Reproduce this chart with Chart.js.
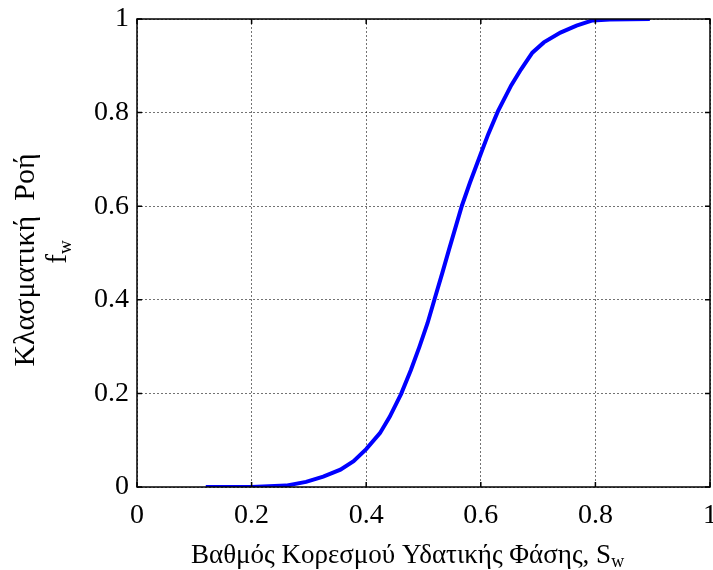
<!DOCTYPE html>
<html>
<head>
<meta charset="utf-8">
<script src="https://cdn.jsdelivr.net/npm/chart.js@4.4.1/dist/chart.umd.min.js"></script>
<style>
  html, body { margin:0; padding:0; background:#fff; }
  #wrap { width:713px; height:570px; position:relative; }
</style>
</head>
<body>
<div id="wrap"><canvas id="fwChart"></canvas></div>
<script>
/* ---- data ---- */
const swValues = [0.12, 0.20, 0.26, 0.295, 0.325, 0.355, 0.378, 0.40, 0.424, 0.441,
                  0.461, 0.478, 0.493, 0.507, 0.519, 0.533, 0.544, 0.567, 0.581, 0.60,
                  0.613, 0.63, 0.653, 0.67, 0.69, 0.71, 0.739, 0.767, 0.795, 0.825, 0.895];
const fwValues = [0, 0, 0.003, 0.011, 0.022, 0.037, 0.055, 0.081, 0.115, 0.15,
                  0.199, 0.25, 0.30, 0.35, 0.40, 0.458, 0.505, 0.601, 0.65, 0.712,
                  0.754, 0.803, 0.858, 0.892, 0.928, 0.95, 0.971, 0.986, 0.997, 0.999, 1.0];
const xTickValues = [0, 0.2, 0.4, 0.6, 0.8, 1];
const yTickValues = [0, 0.2, 0.4, 0.6, 0.8, 1];
const xTitle = 'Βαθμός Κορεσμού Υδατικής Φάσης, S';
const xTitleSub = 'w';
const yTitle = 'Κλασματική  Ροή';
const yTitle2 = 'f';
const yTitle2Sub = 'w';

const SERIF = '"Liberation Serif", "Times New Roman", serif';

/* matlab-like box, inward ticks and titles with subscripts */
const matlabFrame = {
  id: 'matlabFrame',
  afterDraw(chart) {
    const ctx = chart.ctx, a = chart.chartArea;
    const xs = chart.scales.x, ys = chart.scales.y;
    ctx.save();
    ctx.strokeStyle = '#000';
    ctx.lineWidth = 1.5;
    ctx.strokeRect(a.left, a.top, a.right - a.left, a.bottom - a.top);
    ctx.beginPath();
    xs.ticks.forEach(t => {
      const px = xs.getPixelForValue(t.value);
      ctx.moveTo(px, a.bottom); ctx.lineTo(px, a.bottom - 5);
      ctx.moveTo(px, a.top); ctx.lineTo(px, a.top + 5);
    });
    ys.ticks.forEach(t => {
      const py = ys.getPixelForValue(t.value);
      ctx.moveTo(a.left, py); ctx.lineTo(a.left + 5, py);
      ctx.moveTo(a.right, py); ctx.lineTo(a.right - 5, py);
    });
    ctx.stroke();

    // x title
    ctx.fillStyle = '#000';
    ctx.textBaseline = 'alphabetic';
    ctx.textAlign = 'left';
    ctx.font = '27px ' + SERIF;
    const w1 = ctx.measureText(xTitle).width;
    const x0 = 191;
    ctx.fillText(xTitle, x0, 563);
    ctx.font = '18px ' + SERIF;
    ctx.fillText(xTitleSub, x0 + w1, 567);

    // y title (rotated, two lines)
    ctx.save();
    ctx.translate(34, 260);
    ctx.rotate(-Math.PI / 2);
    ctx.font = '30px ' + SERIF;
    ctx.textAlign = 'center';
    ctx.fillText(yTitle, 0, 0);
    ctx.restore();

    ctx.save();
    ctx.translate(66, 252);
    ctx.rotate(-Math.PI / 2);
    ctx.font = '29px ' + SERIF;
    const fw = ctx.measureText(yTitle2).width;
    ctx.font = '19px ' + SERIF;
    const sw = ctx.measureText(yTitle2Sub).width;
    const s0 = -(fw + sw) / 2;
    ctx.textAlign = 'left';
    ctx.font = '29px ' + SERIF;
    ctx.fillText(yTitle2, s0, 0);
    ctx.font = '19px ' + SERIF;
    ctx.fillText(yTitle2Sub, s0 + fw, 5);
    ctx.restore();
    ctx.restore();
  }
};

const gridStyle = {
  color: 'rgba(0,0,0,0.55)', lineWidth: 1,
  drawTicks: false, drawOnChartArea: true
};

new Chart(document.getElementById('fwChart'), {
  type: 'line',
  data: {
    datasets: [{
      data: swValues.map((s, i) => ({ x: s, y: fwValues[i] })),
      borderColor: '#0000ff', borderWidth: 4,
      pointRadius: 0, fill: false, tension: 0
    }]
  },
  options: {
    responsive: true, maintainAspectRatio: false, animation: false,
    layout: { padding: { top: 19, right: 3, left: 0, bottom: 0 } },
    plugins: { legend: { display: false }, tooltip: { enabled: false } },
    scales: {
      x: {
        type: 'linear', min: 0, max: 1,
        afterBuildTicks: s => { s.ticks = xTickValues.map(v => ({ value: v })); },
        afterFit: s => { s.height = 83; s.paddingLeft = 0; s.paddingRight = 0; },
        ticks: {
          autoSkip: false, maxRotation: 0, padding: 12, color: '#000',
          font: { family: SERIF, size: 28 },
          callback: v => String(v)
        },
        grid: gridStyle,
        border: { display: false, dash: [2, 2] }
      },
      y: {
        type: 'linear', min: 0, max: 1,
        afterBuildTicks: s => { s.ticks = yTickValues.map(v => ({ value: v })); },
        afterFit: s => { s.width = 137; s.paddingTop = 0; s.paddingBottom = 0; },
        ticks: {
          padding: 8, color: '#000',
          font: { family: SERIF, size: 28 },
          callback: v => String(v)
        },
        grid: gridStyle,
        border: { display: false, dash: [2, 2] }
      }
    }
  },
  plugins: [matlabFrame]
});
</script>
</body>
</html>
